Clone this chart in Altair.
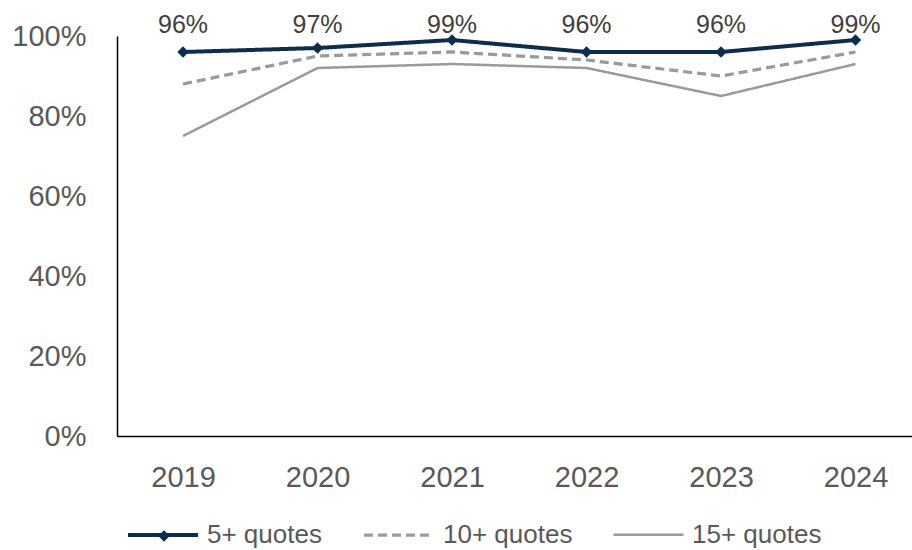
import altair as alt
import pandas as pd

years = [2019, 2020, 2021, 2022, 2023, 2024]
series_names = ["5+ quotes", "10+ quotes", "15+ quotes"]
q5 = [96, 97, 99, 96, 96, 99]
q10 = [88, 95, 96, 94, 90, 96]
q15 = [75, 92, 93, 92, 85, 93]
y_ticks = [0, 20, 40, 60, 80, 100]

NAVY = "#0b2d50"
GRAY = "#9a9a9a"
AXIS_TXT = "#595959"
LABEL_TXT = "#404040"
FONT = "Liberation Sans"

rows = []
for name, vals in zip(series_names, [q5, q10, q15]):
    for yr, v in zip(years, vals):
        rows.append({"year": yr, "series": name, "value": v, "label": f"{v}%"})
df = pd.DataFrame(rows)
df5 = df[df["series"] == "5+ quotes"].copy()
df5["marker"] = "5+ quotes marker"

x_enc = alt.X(
    "year:Q",
    scale=alt.Scale(domain=[2018.509, 2024.42], nice=False, zero=False),
    axis=alt.Axis(values=years, format="d", title=None, grid=False, ticks=False,
                  labelFontSize=29, labelColor=AXIS_TXT, labelFont=FONT,
                  labelPadding=27, domainColor="black", domainWidth=1.5),
)
y_enc = alt.Y(
    "value:Q",
    scale=alt.Scale(domain=[0, 100], nice=False),
    axis=alt.Axis(values=y_ticks, labelExpr="datum.value + '%'", title=None,
                  grid=False, ticks=False, labelFontSize=29, labelColor=AXIS_TXT,
                  labelFont=FONT, labelPadding=31, domainColor="black", domainWidth=1.5),
)

legend = alt.Legend(
    title=None, orient="none", legendX=9, legendY=462, direction="horizontal",
    symbolType="stroke", symbolSize=4900, labelFontSize=26, labelColor=AXIS_TXT,
    labelFont=FONT, labelOffset=7, columnPadding=35, padding=0,
)
marker_legend = alt.Legend(
    title=None, orient="none", legendX=34, legendY=487, direction="horizontal",
    symbolType="diamond", symbolSize=130, symbolFillColor=NAVY, symbolStrokeWidth=0,
    labelExpr="''", labelFontSize=26, labelOffset=0, padding=0,
)

lines = alt.Chart(df).mark_line().encode(
    x=x_enc,
    y=y_enc,
    color=alt.Color("series:N", scale=alt.Scale(domain=series_names, range=[NAVY, GRAY, GRAY]), legend=legend),
    strokeDash=alt.StrokeDash("series:N", scale=alt.Scale(domain=series_names, range=[[1, 0], [9, 5], [1, 0]]), legend=legend),
    strokeWidth=alt.StrokeWidth("series:N", scale=alt.Scale(domain=series_names, range=[4, 2.5, 2.5]), legend=legend),
    order=alt.Order("year:Q"),
)

points = alt.Chart(df5).mark_point(filled=True, size=130, color=NAVY, opacity=1).encode(
    x=x_enc, y=y_enc,
    shape=alt.Shape("marker:N", scale=alt.Scale(range=["diamond"]), legend=marker_legend),
)

texts = alt.Chart(df5).mark_text(fontSize=25, color=LABEL_TXT, font=FONT, baseline="middle").encode(
    x=x_enc, y=alt.datum(102.8), text="label:N"
)

chart = alt.layer(lines, points, texts).resolve_legend(shape="independent").properties(
    width=795, height=400,
    padding={"left": 117, "top": 36, "right": 0, "bottom": 114},
    autosize=alt.AutoSizeParams(type="none"),
).configure_view(strokeWidth=0)

chart.save("out.html", embed_options={"renderer": "svg", "actions": False})
